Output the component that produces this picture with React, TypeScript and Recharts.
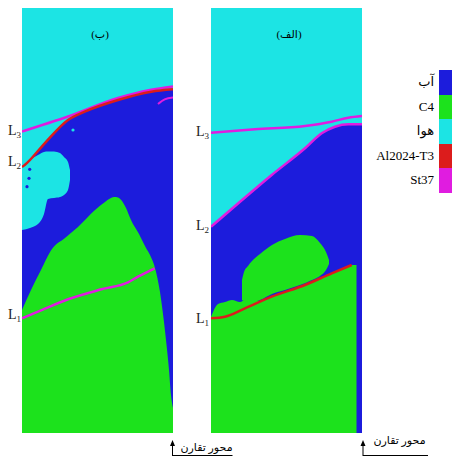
import { ComposedChart, Area, Line, Scatter, XAxis, YAxis } from 'recharts';

const BLUE = '#1c1cdc';
const GREEN = '#1ce21c';
const CYAN = '#1ce4e4';
const RED = '#dc1c1c';
const MAGENTA = '#e01ce0';

const W = 151;
const H = 425;

// legend
const materials = ['آب', 'C4', 'هوا', 'Al2024-T3', 'St37'];
const materialColors = [BLUE, GREEN, CYAN, RED, MAGENTA];

// panel (ب): [x, y] for lines, [x, low, high] for regions
const bL3: number[][] = [[0, 301.5], [46, 316.5], [96, 335], [128, 343], [151, 346.5]];
const bL2: number[][] = [[0, 266], [2.7, 268], [22.7, 289.7], [46, 313], [62.7, 321.3], [96, 333], [129.3, 341.3], [151, 343.7]];
const bL1: number[][] = [[0, 114.7], [16, 121.3], [46, 133.7], [79.3, 143.7], [106, 150.7], [116, 156.3], [132.7, 164.7]];
const bArc: number[][] = [[136, 329], [142.7, 333.7], [151, 335.5]];
const bAirBlob: number[][] = [
  [0, 203, 267], [8, 205, 273], [16, 209, 278], [22, 219, 281], [26, 234, 281.5], [32, 235, 281.5],
  [38, 236, 280], [42, 238, 276], [46, 243, 271], [48, 253, 263],
];
const bExplosive: number[][] = [
  [0, 0, 123], [9, 0, 143], [19, 0, 163], [30, 0, 184], [43, 0, 195], [56, 0, 206], [73, 0, 223],
  [83, 0, 231], [88, 0, 234.5], [92, 0, 236], [96, 0, 235.5], [100, 0, 232], [104, 0, 225], [109, 0, 213],
  [117, 0, 199], [124, 0, 185], [128, 0, 178], [133, 0, 165], [138, 0, 141], [142, 0, 111], [144, 0, 93],
  [147, 0, 63], [149, 0, 38], [151, 0, 25],
];
const bWaterDots: number[][] = [[7.7, 263.7], [7, 254.7], [5, 246.3]];
const bAirDots: number[][] = [[51, 303]];

// panel (الف)
const aL3: number[][] = [[0, 300.3], [44, 303.7], [94, 307], [120.7, 311.3], [137.3, 315.3], [151, 317]];
const aL2: number[][] = [[0, 206.3], [27.3, 229.7], [60.7, 258], [94, 284.7], [110.7, 299.7], [124, 306.3], [137.3, 308.7], [151, 308.7]];
const aL1: number[][] = [[0, 114.7], [14, 116.3], [34, 124.7], [60.7, 136.3], [94, 148], [120.7, 159.7], [140.7, 168]];
const aExplosiveLow: number[][] = [
  [0, 0, 116], [7, 0, 129], [14, 0, 131], [21, 0, 133], [29, 0, 131], [34, 0, 133], [50, 0, 132],
  [60.7, 0, 136.3], [77, 0, 142], [94, 0, 148], [107, 0, 154], [120.7, 0, 159.7], [130, 0, 164],
  [140.7, 0, 168], [145.5, 0, 168],
];
const aExplosiveBlob: number[][] = [
  [31, 133, 153], [33, 132, 161], [37, 131, 167], [41, 131, 172], [49, 133, 179], [61, 139, 188],
  [74, 143, 194], [89, 148, 198], [101, 153, 197], [109, 157, 190], [115, 163, 181], [118, 169, 173],
];

const toLine = (pts: number[][]) => pts.map(([x, y]) => ({ x, y }));
const toBand = (pts: number[][]) => pts.map(([x, lo, hi]) => ({ x, r: [lo, hi] }));
const toTop = (pts: number[][]) => pts.map(([x, y]) => ({ x, r: [y, H] }));

interface Band { data: { x: number; r: number[] }[]; color: string }
interface Curve { data: { x: number; y: number }[]; color: string; width: number }
interface Dots { data: { x: number; y: number }[]; color: string }

function Panel({ bands, curves, dots }: { bands: Band[]; curves: Curve[]; dots: Dots[] }) {
  return (
    <ComposedChart width={W} height={H} margin={{ top: 0, right: 0, bottom: 0, left: 0 }} style={{ background: BLUE }}>
      <XAxis type="number" dataKey="x" domain={[0, W]} hide allowDataOverflow />
      <YAxis type="number" dataKey="y" domain={[0, H]} hide allowDataOverflow />
      {bands.map((b, i) => (
        <Area
          key={'b' + i}
          data={b.data}
          dataKey="r"
          type="monotone"
          stroke="none"
          fill={b.color}
          fillOpacity={1}
          isAnimationActive={false}
        />
      ))}
      {curves.map((c, i) => (
        <Line
          key={'c' + i}
          data={c.data}
          dataKey="y"
          type="monotone"
          stroke={c.color}
          strokeWidth={c.width}
          dot={false}
          isAnimationActive={false}
        />
      ))}
      {dots.map((d, i) => (
        <Scatter
          key={'d' + i}
          data={d.data}
          dataKey="y"
          isAnimationActive={false}
          shape={(p: any) => <circle cx={p.cx} cy={p.cy} r={1.6} fill={d.color} />}
        />
      ))}
    </ComposedChart>
  );
}

const serif = '"Liberation Serif", "DejaVu Serif", "DejaVu Sans", serif';

function LLabel({ n, x, y }: { n: number; x: number; y: number }) {
  return (
    <div style={{ position: 'absolute', left: x, top: y, fontFamily: serif, fontSize: 14, lineHeight: '14px', color: '#222' }}>
      L<sub style={{ fontSize: 9, verticalAlign: -3 }}>{n}</sub>
    </div>
  );
}

function AxisNote({ x, len, textTop }: { x: number; len: number; textTop: number }) {
  return (
    <>
      <svg style={{ position: 'absolute', left: 0, top: 0 }} width={457} height={457}>
        <line x1={x} y1={456} x2={x} y2={444} stroke="#000" strokeWidth={1} />
        <path d={`M${x - 2.5},${446} L${x},${440} L${x + 2.5},${446} Z`} fill="#000" />
        <line x1={x} y1={455.5} x2={x + len} y2={455.5} stroke="#000" strokeWidth={1} />
      </svg>
      <div style={{ position: 'absolute', left: x + 6, top: textTop, width: len - 4, textAlign: 'center', fontFamily: serif, fontSize: 11, lineHeight: '12px', color: '#000', direction: 'rtl', whiteSpace: 'nowrap' }}>
        محور تقارن
      </div>
    </>
  );
}

export default function App() {
  return (
    <div style={{ position: 'absolute', left: 0, top: 0, width: 457, height: 457, background: '#fff', overflow: 'hidden' }}>
      <div style={{ position: 'absolute', left: 22, top: 8 }}>
        <Panel
          bands={[
            { data: toTop(bL2), color: CYAN },
            { data: toBand(bAirBlob), color: CYAN },
            { data: toBand(bExplosive), color: GREEN },
          ]}
          curves={[
            { data: toLine(bL3), color: MAGENTA, width: 2.5 },
            { data: toLine(bL2), color: RED, width: 2.5 },
            { data: toLine(bArc), color: MAGENTA, width: 2 },
            { data: toLine(bL1), color: MAGENTA, width: 2.5 },
          ]}
          dots={[
            { data: toLine(bWaterDots), color: BLUE },
            { data: toLine(bAirDots), color: CYAN },
          ]}
        />
      </div>
      <div style={{ position: 'absolute', left: 211, top: 8 }}>
        <Panel
          bands={[
            { data: toTop(aL2), color: CYAN },
            { data: toBand(aExplosiveLow), color: GREEN },
            { data: toBand(aExplosiveBlob), color: GREEN },
          ]}
          curves={[
            { data: toLine(aL3), color: MAGENTA, width: 2.5 },
            { data: toLine(aL2), color: MAGENTA, width: 2.5 },
            { data: toLine(aL1), color: RED, width: 2.5 },
          ]}
          dots={[]}
        />
      </div>

      <div style={{ position: 'absolute', left: 80, top: 28, width: 40, textAlign: 'center', fontFamily: serif, fontSize: 11, color: '#000' }}>(ب)</div>
      <div style={{ position: 'absolute', left: 266, top: 28, width: 46, textAlign: 'center', fontFamily: serif, fontSize: 11, color: '#000', direction: 'rtl' }}>(الف)</div>

      <LLabel n={3} x={8} y={124} />
      <LLabel n={2} x={8} y={155} />
      <LLabel n={1} x={8} y={308} />
      <LLabel n={3} x={196} y={125} />
      <LLabel n={2} x={196} y={219} />
      <LLabel n={1} x={196} y={312} />

      {materials.map((m, i) => (
        <div key={m}>
          <div style={{ position: 'absolute', left: 439, top: 70 + i * 24.5, width: 13, height: 24.5, background: materialColors[i] }} />
          <div style={{ position: 'absolute', right: 457 - 434, top: 70 + i * 24.5 + 5, fontFamily: serif, fontSize: 13, lineHeight: '14px', color: '#000', whiteSpace: 'nowrap' }}>{m}</div>
        </div>
      ))}

      <AxisNote x={172.5} len={60} textTop={441} />
      <AxisNote x={363} len={65} textTop={434} />
    </div>
  );
}
